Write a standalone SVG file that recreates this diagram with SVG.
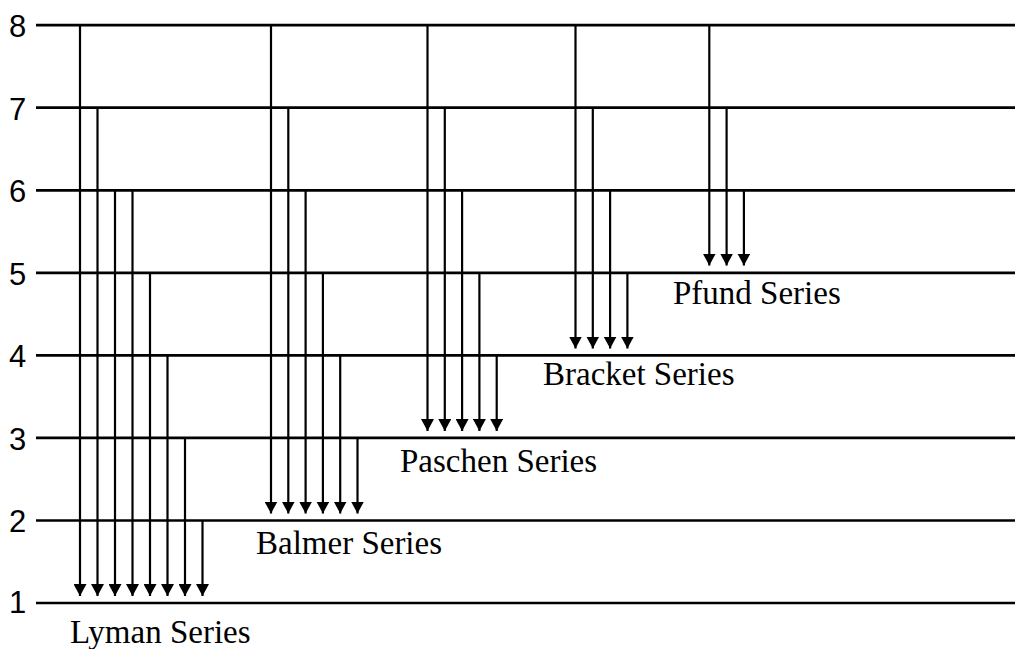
<svg xmlns="http://www.w3.org/2000/svg" width="1015" height="649" viewBox="0 0 1015 649">
<style>
.lvl{stroke:#000;stroke-width:2.7;fill:none}
.num{font-family:"Liberation Sans",Arial,sans-serif;font-size:31px;fill:#000}
.lab{font-family:"Liberation Serif","Times New Roman",serif;font-size:33px;fill:#000}
.arr{stroke:#000;stroke-width:2.2;fill:none;marker-end:url(#ah)}
</style>
<defs>
<marker id="ah" viewBox="0 0 12 13" markerWidth="12" markerHeight="13" refX="12" refY="6.5" orient="auto" markerUnits="userSpaceOnUse">
<path d="M0,0 L12,6.5 L0,13 z" fill="#000"/>
</marker>
</defs>
<rect width="1015" height="649" fill="#fff"/>
<g id="levels">
<line class="lvl" x1="36" y1="25.2" x2="1015" y2="25.2"/>
<line class="lvl" x1="36" y1="107.7" x2="1015" y2="107.7"/>
<line class="lvl" x1="36" y1="190.3" x2="1015" y2="190.3"/>
<line class="lvl" x1="36" y1="272.8" x2="1015" y2="272.8"/>
<line class="lvl" x1="36" y1="355.4" x2="1015" y2="355.4"/>
<line class="lvl" x1="36" y1="437.9" x2="1015" y2="437.9"/>
<line class="lvl" x1="36" y1="520.5" x2="1015" y2="520.5"/>
<line class="lvl" x1="36" y1="603" x2="1015" y2="603"/>
</g>
<g id="level-numbers">
<text class="num" x="9" y="37">8</text>
<text class="num" x="9" y="119.5">7</text>
<text class="num" x="9" y="202">6</text>
<text class="num" x="9" y="284.5">5</text>
<text class="num" x="9" y="367">4</text>
<text class="num" x="9" y="449.5">3</text>
<text class="num" x="9" y="532">2</text>
<text class="num" x="9" y="613">1</text>
</g>
<g id="connectors">
<g id="lyman-arrows">
<line class="arr" x1="80" y1="25.2" x2="80" y2="596"/>
<line class="arr" x1="97.5" y1="107.7" x2="97.5" y2="596"/>
<line class="arr" x1="115" y1="190.3" x2="115" y2="596"/>
<line class="arr" x1="132.5" y1="190.3" x2="132.5" y2="596"/>
<line class="arr" x1="150" y1="272.8" x2="150" y2="596"/>
<line class="arr" x1="167.5" y1="355.4" x2="167.5" y2="596"/>
<line class="arr" x1="185" y1="437.9" x2="185" y2="596"/>
<line class="arr" x1="202.5" y1="520.5" x2="202.5" y2="596"/>
</g>
<g id="balmer-arrows">
<line class="arr" x1="271" y1="25.2" x2="271" y2="513.5"/>
<line class="arr" x1="288.3" y1="107.7" x2="288.3" y2="513.5"/>
<line class="arr" x1="305.6" y1="190.3" x2="305.6" y2="513.5"/>
<line class="arr" x1="322.9" y1="272.8" x2="322.9" y2="513.5"/>
<line class="arr" x1="340.2" y1="355.4" x2="340.2" y2="513.5"/>
<line class="arr" x1="357.5" y1="437.9" x2="357.5" y2="513.5"/>
</g>
<g id="paschen-arrows">
<line class="arr" x1="427.5" y1="25.2" x2="427.5" y2="431"/>
<line class="arr" x1="444.8" y1="107.7" x2="444.8" y2="431"/>
<line class="arr" x1="462.1" y1="190.3" x2="462.1" y2="431"/>
<line class="arr" x1="479.4" y1="272.8" x2="479.4" y2="431"/>
<line class="arr" x1="496.7" y1="355.4" x2="496.7" y2="431"/>
</g>
<g id="bracket-arrows">
<line class="arr" x1="575.5" y1="25.2" x2="575.5" y2="348.5"/>
<line class="arr" x1="592.8" y1="107.7" x2="592.8" y2="348.5"/>
<line class="arr" x1="610.1" y1="190.3" x2="610.1" y2="348.5"/>
<line class="arr" x1="627.4" y1="272.8" x2="627.4" y2="348.5"/>
</g>
<g id="pfund-arrows">
<line class="arr" x1="709.3" y1="25.2" x2="709.3" y2="265.5"/>
<line class="arr" x1="726.6" y1="107.7" x2="726.6" y2="265.5"/>
<line class="arr" x1="743.9" y1="190.3" x2="743.9" y2="265.5"/>
</g>
</g>
<g id="lyman-label"><text class="lab" x="70" y="643">Lyman Series</text></g>
<g id="balmer-label"><text class="lab" x="256" y="554">Balmer Series</text></g>
<g id="paschen-label"><text class="lab" x="400" y="472">Paschen Series</text></g>
<g id="bracket-label"><text class="lab" x="543" y="385">Bracket Series</text></g>
<g id="pfund-label"><text class="lab" x="673" y="304">Pfund Series</text></g>
</svg>
